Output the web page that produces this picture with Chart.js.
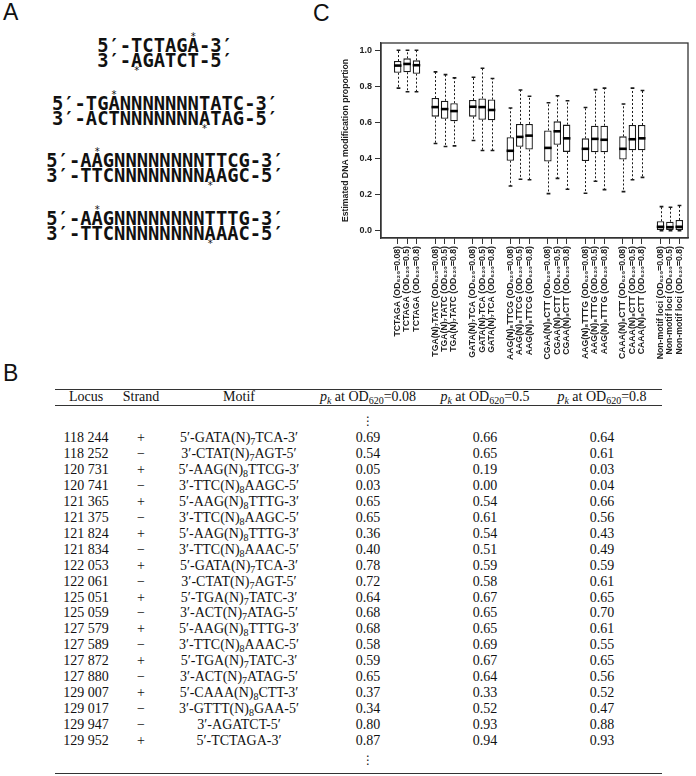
<!DOCTYPE html>
<html><head><meta charset="utf-8">
<script src="https://cdn.jsdelivr.net/npm/chart.js@4"></script>
<style>
body{margin:0;width:696px;height:776px;position:relative;background:#fff;overflow:hidden;font-family:"Liberation Sans",Arial,sans-serif;color:#111;}
.panel{position:absolute;font-size:23px;line-height:23px;}
.seq{position:absolute;left:0;width:330px;text-align:center;font-family:"DejaVu Sans Mono",monospace;font-weight:bold;font-size:18.8px;line-height:15px;height:15px;white-space:pre;}
.st{position:relative;display:inline-block;}
.st::after{content:"*";position:absolute;left:50%;transform:translateX(-50%);font-family:"DejaVu Sans",sans-serif;font-size:10px;line-height:10px;font-weight:normal;}
.up::after{top:-6px;}
.dn::after{top:13px;}
.cell{position:absolute;font-family:"Liberation Serif","DejaVu Serif",serif;font-size:14px;line-height:16px;transform:translate(-50%,-50%);white-space:nowrap;}
.cell sub{font-size:10px;vertical-align:-3px;line-height:0;}
.rule{position:absolute;left:55px;width:607px;background:#333;}
#cv{position:absolute;left:300px;top:28px;}
</style></head>
<body>
<div class="panel" style="left:3px;top:1px">A</div>
<div class="panel" style="left:313px;top:2px">C</div>
<div class="panel" style="left:3px;top:362px">B</div>
<div id="seqs"></div>
<div id="tbl"></div>
<canvas id="cv" width="396" height="332"></canvas>
<script>
// ---- Panel C data (box plot statistics) ----
const motifs = ["TCTAGA","TGA(N)\u2087TATC","GATA(N)\u2087TCA","AAG(N)\u2088TTCG","CGAA(N)\u2088CTT","AAG(N)\u2088TTTG","CAAA(N)\u2088CTT","Non-motif loci"];
const odLevels = ["0.08","0.5","0.8"];
const positions = [1,2,3, 5,6,7, 9,10,11, 13,14,15, 17,18,19, 21,22,23, 25,26,27, 29,30,31];
const whiskerLow = [0.79,0.77,0.77, 0.483,0.467,0.47, 0.50,0.445,0.445, 0.248,0.285,0.283, 0.206,0.29,0.23, 0.208,0.274,0.228, 0.217,0.283,0.296, 0.0,0.0,0.0];
const quart1     = [0.875,0.878,0.87, 0.632,0.62,0.606, 0.632,0.615,0.612, 0.388,0.465,0.45, 0.384,0.476,0.437, 0.386,0.435,0.435, 0.395,0.446,0.446, 0.005,0.005,0.005];
const medians    = [0.915,0.924,0.917, 0.685,0.674,0.663, 0.687,0.685,0.669, 0.443,0.52,0.527, 0.459,0.551,0.512, 0.454,0.509,0.504, 0.454,0.507,0.512, 0.022,0.02,0.022];
const quart3     = [0.94,0.955,0.944, 0.735,0.72,0.707, 0.724,0.733,0.727, 0.518,0.592,0.592, 0.556,0.606,0.588, 0.512,0.582,0.582, 0.523,0.586,0.586, 0.053,0.05,0.06];
const whiskerHigh= [1.0,1.0,1.0, 0.88,0.865,0.847, 0.85,0.90,0.843, 0.68,0.78,0.745, 0.709,0.748,0.72, 0.683,0.782,0.79, 0.702,0.79,0.777, 0.134,0.13,0.14];
const yTicks = [0,0.2,0.4,0.6,0.8,1.0];

// ---- Panel B table data ----
const loci = ["118 244","118 252","120 731","120 741","121 365","121 375","121 824","121 834","122 053","122 061","125 051","125 059","127 579","127 589","127 872","127 880","129 007","129 017","129 947","129 952"];
const strands = ["+","\u2212","+","\u2212","+","\u2212","+","\u2212","+","\u2212","+","\u2212","+","\u2212","+","\u2212","+","\u2212","\u2212","+"];
const motifText = ["5\u2032-GATA(N)<sub>7</sub>TCA-3\u2032","3\u2032-CTAT(N)<sub>7</sub>AGT-5\u2032","5\u2032-AAG(N)<sub>8</sub>TTCG-3\u2032","3\u2032-TTC(N)<sub>8</sub>AAGC-5\u2032","5\u2032-AAG(N)<sub>8</sub>TTTG-3\u2032","3\u2032-TTC(N)<sub>8</sub>AAGC-5\u2032","5\u2032-AAG(N)<sub>8</sub>TTTG-3\u2032","3\u2032-TTC(N)<sub>8</sub>AAAC-5\u2032","5\u2032-GATA(N)<sub>7</sub>TCA-3\u2032","3\u2032-CTAT(N)<sub>7</sub>AGT-5\u2032","5\u2032-TGA(N)<sub>7</sub>TATC-3\u2032","3\u2032-ACT(N)<sub>7</sub>ATAG-5\u2032","5\u2032-AAG(N)<sub>8</sub>TTTG-3\u2032","3\u2032-TTC(N)<sub>8</sub>AAAC-5\u2032","5\u2032-TGA(N)<sub>7</sub>TATC-3\u2032","3\u2032-ACT(N)<sub>7</sub>ATAG-5\u2032","5\u2032-CAAA(N)<sub>8</sub>CTT-3\u2032","3\u2032-GTTT(N)<sub>8</sub>GAA-5\u2032","3\u2032-AGATCT-5\u2032","5\u2032-TCTAGA-3\u2032"];
const pk008 = [0.69,0.54,0.05,0.03,0.65,0.65,0.36,0.40,0.78,0.72,0.64,0.68,0.68,0.58,0.59,0.65,0.37,0.34,0.80,0.87];
const pk05  = [0.66,0.65,0.19,0.00,0.54,0.61,0.54,0.51,0.59,0.58,0.67,0.65,0.65,0.69,0.67,0.64,0.33,0.52,0.93,0.94];
const pk08  = [0.64,0.61,0.03,0.04,0.66,0.56,0.43,0.49,0.59,0.61,0.65,0.70,0.61,0.55,0.65,0.56,0.52,0.47,0.88,0.93];

// ---- Panel A sequences ----
const seqLines = [
  {t:"5\u2032-TCTAGA-3\u2032", s:8, d:"up", y:38},
  {t:"3\u2032-AGATCT-5\u2032", s:3, d:"dn", y:53},
  {t:"5\u2032-TGANNNNNNNTATC-3\u2032", s:5, d:"up", y:96},
  {t:"3\u2032-ACTNNNNNNNATAG-5\u2032", s:13, d:"dn", y:111},
  {t:"5\u2032-AAGNNNNNNNNTTCG-3\u2032", s:4, d:"up", y:153},
  {t:"3\u2032-TTCNNNNNNNNAAGC-5\u2032", s:14, d:"dn", y:168},
  {t:"5\u2032-AAGNNNNNNNNTTTG-3\u2032", s:4, d:"up", y:211},
  {t:"3\u2032-TTCNNNNNNNNAAAC-5\u2032", s:14, d:"dn", y:226}
];
let sh = "";
seqLines.forEach(L => {
  const chars = Array.from(L.t);
  const inner = chars.map((c,i) => i===L.s ? `<span class="st ${L.d}">${c}</span>` : c).join("");
  sh += `<div class="seq" style="top:${L.y}px">${inner}</div>`;
});
document.getElementById("seqs").innerHTML = sh;

// ---- Table ----
const colX = [86,141,239,368,485,602];
const hdr = ["Locus","Strand","Motif",
  "<i>p<sub>k</sub></i> at OD<sub>620</sub>=0.08",
  "<i>p<sub>k</sub></i> at OD<sub>620</sub>=0.5",
  "<i>p<sub>k</sub></i> at OD<sub>620</sub>=0.8"];
let th = "";
th += `<div class="rule" style="top:389px;height:1.3px"></div>`;
th += `<div class="rule" style="top:405px;height:1px"></div>`;
th += `<div class="rule" style="top:773px;height:1.3px"></div>`;
hdr.forEach((h,i)=>{ th += `<div class="cell" style="left:${colX[i]}px;top:397px">${h}</div>`; });
th += `<div class="cell" style="left:368px;top:421px;font-family:'DejaVu Sans';font-size:12px">\u22EE</div>`;
th += `<div class="cell" style="left:368px;top:760px;font-family:'DejaVu Sans';font-size:12px">\u22EE</div>`;
loci.forEach((l,r)=>{
  const y = 438 + r*15.95;
  const vals = [l, strands[r], motifText[r], pk008[r].toFixed(2), pk05[r].toFixed(2), pk08[r].toFixed(2)];
  vals.forEach((v,i)=>{ th += `<div class="cell" style="left:${colX[i]}px;top:${y}px">${v}</div>`; });
});
document.getElementById("tbl").innerHTML = th;

// ---- Chart ----
const tickLabels = [];
motifs.forEach(m => odLevels.forEach(o => tickLabels.push(`${m} (OD\u2086\u2082\u2080=${o})`)));
const FAM = "'Liberation Sans', 'DejaVu Sans', sans-serif";

const boxPlugin = {
  id: 'boxdeco',
  beforeDatasetsDraw(chart) {
    const {ctx, scales:{x, y}} = chart;
    ctx.save();
    ctx.strokeStyle = '#1a1a1a';
    for (let i = 0; i < positions.length; i++) {
      const px = Math.round(x.getPixelForValue(positions[i])) + 0.5;
      const hw = (x.getPixelForValue(positions[i] + 0.4) - x.getPixelForValue(positions[i])) / 2;
      ctx.setLineDash([2, 2]); ctx.lineWidth = 1;
      ctx.beginPath();
      ctx.moveTo(px, y.getPixelForValue(quart3[i])); ctx.lineTo(px, y.getPixelForValue(whiskerHigh[i]));
      ctx.moveTo(px, y.getPixelForValue(quart1[i])); ctx.lineTo(px, y.getPixelForValue(whiskerLow[i]));
      ctx.stroke();
      ctx.setLineDash([]); ctx.lineWidth = 1.6;
      ctx.beginPath();
      [whiskerHigh[i], whiskerLow[i]].forEach(v => {
        const py = y.getPixelForValue(v);
        ctx.moveTo(px - hw, py); ctx.lineTo(px + hw, py);
      });
      ctx.stroke();
    }
    ctx.restore();
  },
  afterDatasetsDraw(chart) {
    const {ctx, scales:{x, y}} = chart;
    ctx.save();
    ctx.strokeStyle = '#000'; ctx.lineWidth = 2.6;
    for (let i = 0; i < positions.length; i++) {
      const px = x.getPixelForValue(positions[i]);
      const hw = x.getPixelForValue(positions[i] + 0.4) - px;
      const py = y.getPixelForValue(medians[i]);
      ctx.beginPath(); ctx.moveTo(px - hw, py); ctx.lineTo(px + hw, py); ctx.stroke();
    }
    const a = chart.chartArea;
    ctx.strokeStyle = '#333'; ctx.lineWidth = 1.3;
    ctx.strokeRect(a.left, a.top, a.right - a.left, a.bottom - a.top);
    ctx.restore();
  }
};

new Chart(document.getElementById('cv'), {
  type: 'bar',
  data: {
    datasets: [{
      data: positions.map((p, i) => ({x: p, y: [quart1[i], quart3[i]]})),
      backgroundColor: '#fff',
      borderColor: '#1a1a1a',
      borderWidth: 1.3,
      borderSkipped: false,
      categoryPercentage: 1,
      barPercentage: 0.8
    }]
  },
  options: {
    responsive: false,
    animation: false,
    layout: {padding: {left: 30, top: 15, right: 8, bottom: 0}},
    plugins: {legend: {display: false}, tooltip: {enabled: false}},
    scales: {
      x: {
        type: 'linear', min: -0.78, max: 31.93, offset: false,
        afterBuildTicks: s => { s.ticks = positions.map(v => ({value: v})); },
        afterFit: s => { s.height = 122; },
        grid: {drawOnChartArea: false, offset: false, tickLength: 6, color: '#333', tickWidth: 1},
        border: {display: true, color: '#333', width: 1.3},
        ticks: {
          autoSkip: false, maxRotation: 90, minRotation: 90, padding: 2,
          color: '#222', font: {family: FAM, size: 8.7, weight: 'bold'},
          callback: (v, i) => tickLabels[i]
        }
      },
      y: {
        min: -0.04, max: 1.04,
        afterBuildTicks: s => { s.ticks = yTicks.map(v => ({value: v})); },
        afterFit: s => { s.width = 51; },
        grid: {drawOnChartArea: false, tickLength: 6, color: '#333'},
        border: {display: true, color: '#333', width: 1.3},
        ticks: {color: '#222', padding: 3, font: {family: FAM, size: 9, weight: 'bold'},
          callback: v => v.toFixed(1)},
        title: {display: true, text: 'Estimated DNA modification proportion', color: '#222',
          padding: {top: 10, bottom: 0}, font: {family: FAM, size: 8.7, weight: 'bold'}}
      }
    }
  },
  plugins: [boxPlugin]
});
</script>
</body></html>
